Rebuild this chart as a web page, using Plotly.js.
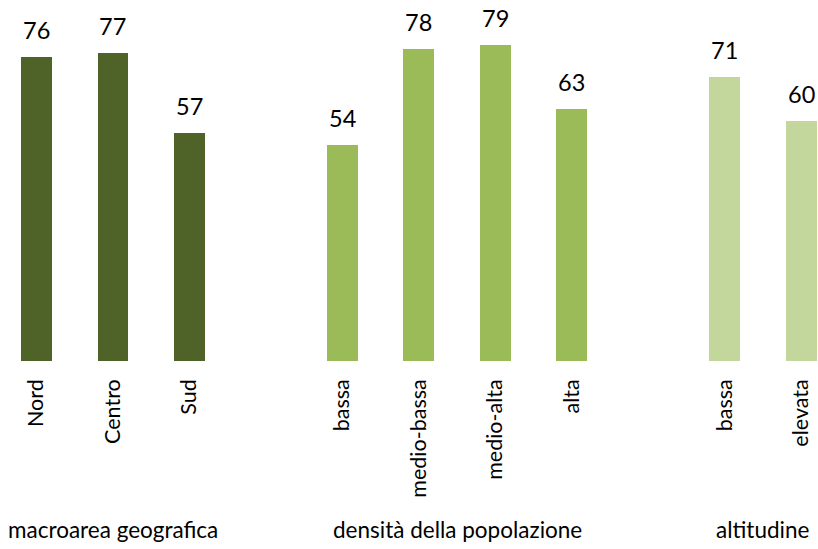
<!DOCTYPE html>
<html>
<head>
<meta charset="utf-8">
<script src="https://cdn.plot.ly/plotly-3.0.1.min.js"></script>
<style>html,body{margin:0;padding:0;background:#fff;}#chart{width:818px;height:549px;}</style>
</head>
<body>
<div id="chart"></div>
<script>
// Data
const groups = ["macroarea geografica", "densità della popolazione", "altitudine"];
const categories = [
  ["Nord", "Centro", "Sud"],
  ["bassa", "medio-bassa", "medio-alta", "alta"],
  ["bassa", "elevata"]
];
const values = [
  [76, 77, 57],
  [54, 78, 79, 63],
  [71, 60]
];
const colors = ["#4F6228", "#9BBB59", "#C3D69B"];

const FONT = 'Lato, Carlito, sans-serif';

// Build positions: one empty slot between groups
const traces = [];
const tickvals = [], ticktext = [], annotations = [];
let pos = 0;
groups.forEach((g, gi) => {
  const xs = [];
  categories[gi].forEach((c, ci) => {
    xs.push(pos);
    tickvals.push(pos);
    ticktext.push(c);
    annotations.push({
      x: pos, y: values[gi][ci], xref: 'x', yref: 'y',
      text: String(values[gi][ci]), showarrow: false,
      yanchor: 'bottom', yshift: 11,
      font: {family: FONT, size: 23.5, color: '#000'}
    });
    pos += 1;
  });
  traces.push({
    type: 'bar', x: xs, y: values[gi], width: 0.405,
    marker: {color: colors[gi]}, hoverinfo: 'skip', showlegend: false
  });
  annotations.push({
    x: (xs[0] + xs[xs.length - 1]) / 2, y: -0.468, xref: 'x', yref: 'paper',
    text: g, showarrow: false, yanchor: 'middle', xanchor: 'center',
    font: {family: FONT, size: 22.5, color: '#000'}
  });
  pos += 1;
});

const layout = {
  width: 818, height: 549,
  margin: {l: 0, r: 0, t: 0, b: 188},
  paper_bgcolor: '#fff', plot_bgcolor: '#fff',
  xaxis: {
    range: [-0.477, 10.216], tickvals: tickvals, ticktext: ticktext,
    tickangle: -90, showgrid: false, zeroline: false, showline: false,
    ticks: '', ticklabelstandoff: 13,
    tickfont: {family: FONT, size: 21.5, color: '#000'}
  },
  yaxis: {
    range: [0, 90.25], showgrid: false, zeroline: false, showline: false,
    showticklabels: false, ticks: ''
  },
  annotations: annotations,
  bargap: 0
};

Plotly.newPlot('chart', traces, layout, {staticPlot: true, displayModeBar: false});
</script>
</body>
</html>
